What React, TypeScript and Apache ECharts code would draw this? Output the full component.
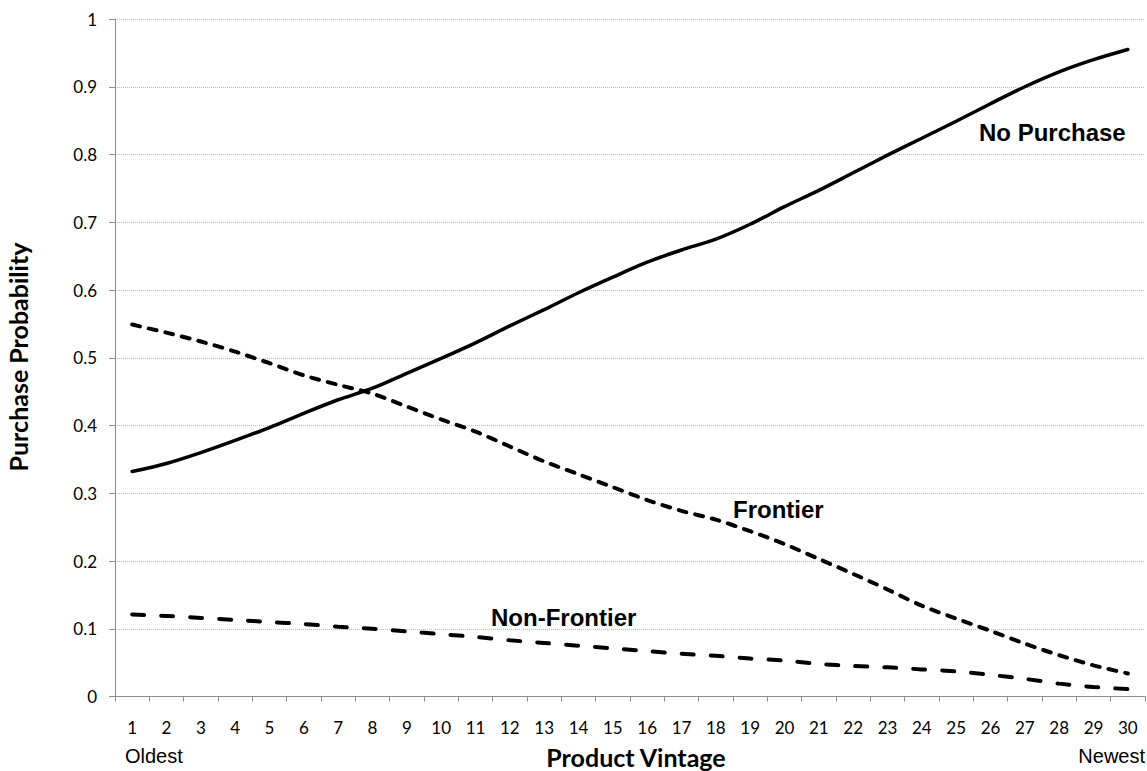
import React, { useEffect, useRef } from "react";
import * as echarts from "echarts";

const categories = ["1","2","3","4","5","6","7","8","9","10","11","12","13","14","15","16","17","18","19","20","21","22","23","24","25","26","27","28","29","30"];
const noPurchase = [0.332,0.344,0.360,0.378,0.397,0.418,0.438,0.455,0.477,0.499,0.522,0.547,0.571,0.596,0.619,0.641,0.659,0.675,0.697,0.723,0.747,0.773,0.799,0.824,0.849,0.875,0.900,0.922,0.940,0.955];
const frontier = [0.549,0.537,0.524,0.509,0.492,0.474,0.460,0.447,0.428,0.409,0.391,0.369,0.347,0.328,0.309,0.290,0.274,0.261,0.244,0.225,0.203,0.181,0.158,0.134,0.115,0.097,0.078,0.061,0.046,0.034];
const nonFrontier = [0.121,0.119,0.116,0.113,0.110,0.107,0.103,0.100,0.096,0.092,0.088,0.083,0.079,0.075,0.071,0.067,0.063,0.060,0.056,0.053,0.048,0.045,0.043,0.040,0.037,0.032,0.026,0.019,0.014,0.011];

const tickFont = "Lato, 'Open Sans', sans-serif";
const arial = "'Liberation Sans', Arial, sans-serif";

export default function App() {
  const ref = useRef<HTMLDivElement>(null);
  useEffect(() => {
    const chart = echarts.init(ref.current as HTMLDivElement, null, { renderer: "svg" });
    chart.setOption({
      animation: false,
      backgroundColor: "#ffffff",
      grid: { left: 115, right: 2, top: 19, bottom: 74.5, containLabel: false },
      xAxis: {
        type: "category",
        data: categories,
        boundaryGap: true,
        axisLine: { show: true, lineStyle: { color: "#8c8c8c", width: 1 } },
        axisTick: { show: true, interval: 0, length: 5, lineStyle: { color: "#8c8c8c" } },
        axisLabel: { interval: 0, margin: 22, fontSize: 17, color: "#000", fontFamily: tickFont },
        splitLine: { show: false },
      },
      yAxis: {
        type: "value",
        min: 0,
        max: 1,
        interval: 0.1,
        axisLine: { show: true, lineStyle: { color: "#8c8c8c", width: 1 } },
        axisTick: { show: true, length: 6, lineStyle: { color: "#8c8c8c" } },
        axisLabel: { margin: 18, fontSize: 17, color: "#000", fontFamily: tickFont },
        splitLine: { show: true, lineStyle: { color: "#bdbdbd", type: "dotted", width: 1 } },
      },
      series: [
        {
          name: "No Purchase",
          type: "line",
          data: noPurchase,
          smooth: 0.3,
          symbol: "none",
          lineStyle: { color: "#000", width: 3.5, type: "solid", cap: "round" },
        },
        {
          name: "Frontier",
          type: "line",
          data: frontier,
          smooth: 0.3,
          symbol: "none",
          lineStyle: { color: "#000", width: 4, type: [8, 9], cap: "round" },
        },
        {
          name: "Non-Frontier",
          type: "line",
          data: nonFrontier,
          smooth: 0.3,
          symbol: "none",
          lineStyle: { color: "#000", width: 4, type: [12, 17], cap: "round" },
        },
      ],
      graphic: [
        { type: "text", left: 979, top: 120, style: { text: "No Purchase", font: `bold 24px ${arial}`, fill: "#000" } },
        { type: "text", left: 733, top: 497, style: { text: "Frontier", font: `bold 24px ${arial}`, fill: "#000" } },
        { type: "text", left: 491, top: 605, style: { text: "Non-Frontier", font: `bold 24px ${arial}`, fill: "#000" } },
        { type: "text", left: 125, top: 746, style: { text: "Oldest", font: `20px ${arial}`, fill: "#000" } },
        { type: "text", right: 2, top: 746, style: { text: "Newest", font: `20px ${arial}`, fill: "#000" } },
        { type: "text", x: 636, y: 757, style: { text: "Product Vintage", font: `bold 25px ${tickFont}`, fill: "#000", align: "center", verticalAlign: "middle" } },
        { type: "text", x: 18, y: 357, rotation: Math.PI / 2, style: { text: "Purchase Probability", font: `bold 25px ${tickFont}`, fill: "#000", align: "center", verticalAlign: "middle" } },
      ],
    });
    return () => chart.dispose();
  }, []);
  return (
    <div
      ref={ref}
      style={{ position: "fixed", left: 0, top: 0, width: 1147, height: 771, background: "#fff" }}
    />
  );
}
